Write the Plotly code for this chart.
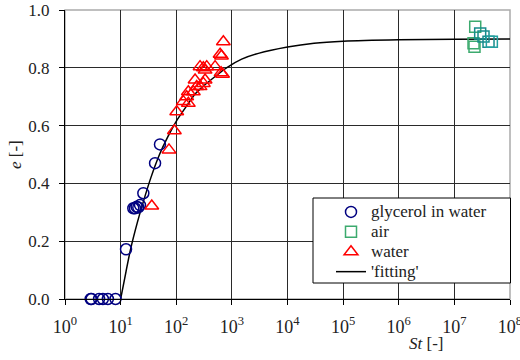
import plotly.graph_objects as go

# ---------------- data ----------------
glycerol_st = [2.9, 3.0, 4.1, 4.8, 5.9, 8.1, 12.5, 16.9, 18.1, 19.4, 20.8, 22.3, 25.6, 41.6, 51]
glycerol_e = [0.0, 0.0, 0.0, 0.0, 0.0, 0.0, 0.172, 0.314, 0.314, 0.319, 0.317, 0.325, 0.366, 0.47, 0.535]

air_st = [2.37e7, 2.21e7, 2.3e7, 2.91e7, 3.34e7, 4.11e7, 4.72e7]
air_e = [0.942, 0.885, 0.873, 0.919, 0.908, 0.89, 0.89]
air_colors = ["#3caa6e", "#3caa6e", "#3caa6e", "#178c8c", "#178c8c", "#178c8c", "#22a0a0"]

water_st = [36.3, 74, 92.5, 102, 134, 154, 165, 165, 203, 218, 233, 268, 268, 307, 307,
            330, 330, 353, 499, 614, 640, 650, 680, 703]
water_e = [0.322, 0.516, 0.582, 0.648, 0.683, 0.70, 0.717, 0.677, 0.717, 0.758, 0.735, 0.735,
           0.804, 0.80, 0.746, 0.792, 0.758, 0.804, 0.804, 0.847, 0.783, 0.841, 0.778, 0.890]

fit_st = [10, 11, 12.5, 15, 20, 25, 35, 50, 70, 100, 150, 220, 300, 500, 800, 1500,
          3000, 1e4, 3e4, 1e5, 1e6, 1e7, 1e8]
fit_e = [0.0, 0.04, 0.095, 0.17, 0.265, 0.33, 0.42, 0.50, 0.56, 0.615, 0.665, 0.71, 0.735,
         0.77, 0.80, 0.83, 0.85, 0.872, 0.885, 0.892, 0.897, 0.899, 0.90]

series_names = ["glycerol in water", "air", "water", "'fitting'"]

x_tickvals = [1, 10, 100, 1e3, 1e4, 1e5, 1e6, 1e7, 1e8]
x_ticktext = ["10<sup>%d</sup>" % i for i in range(9)]
y_tickvals = [0.0, 0.2, 0.4, 0.6, 0.8, 1.0]

FONT = "Liberation Serif, Times New Roman, serif"


def legend_label(s):
    # legend rows are spaced for a 13px font, the text itself is drawn at 17px
    return '<span style="font-size:17px">%s</span>' % s


fig = go.Figure()
fig.add_trace(go.Scatter(
    x=fit_st, y=fit_e, mode="lines", name=legend_label(series_names[3]), legendrank=4,
    line=dict(color="black", width=1.5, shape="spline", smoothing=0.6)))
fig.add_trace(go.Scatter(
    x=glycerol_st, y=glycerol_e, mode="markers", name=legend_label(series_names[0]), legendrank=1,
    marker=dict(symbol="circle-open", size=11, color="#000080", line=dict(width=1.5)),
    cliponaxis=False))
fig.add_trace(go.Scatter(
    x=air_st, y=air_e, mode="markers", name=legend_label(series_names[1]), legendrank=2,
    marker=dict(symbol="square-open", size=11, color=air_colors, line=dict(width=1.5)),
    cliponaxis=False))
fig.add_trace(go.Scatter(
    x=water_st, y=water_e, mode="markers", name=legend_label(series_names[2]), legendrank=3,
    marker=dict(symbol="triangle-up-open", size=12, color="#ff0000", line=dict(width=1.5)),
    cliponaxis=False))

W, H = 520, 360
ml, mr, mt, mb = 65, 10, 10, 61
pw, ph = W - ml - mr, H - mt - mb

def px_x(p):
    return (p - ml) / pw

def px_y(p):
    return (H - mb - p) / ph

fig.update_layout(
    width=W, height=H,
    margin=dict(l=ml, r=mr, t=mt, b=mb, autoexpand=False),
    paper_bgcolor="white", plot_bgcolor="white",
    font=dict(family=FONT, size=17, color="#222"),
    showlegend=True,
    legend=dict(
        traceorder="normal",
        x=px_x(331), y=px_y(197), xanchor="left", yanchor="top",
        bgcolor="rgba(0,0,0,0)", borderwidth=0,
        font=dict(family=FONT, size=13, color="#222"),
        itemwidth=30, tracegroupgap=0,
    ),
    xaxis=dict(
        type="log", range=[0, 8], tickvals=x_tickvals, ticktext=x_ticktext,
        showgrid=True, gridcolor="#2a2a2a", gridwidth=1,
        showline=True, linecolor="black", linewidth=1,
        ticks="outside", ticklen=5, tickcolor="black",
        ticklabelstandoff=6, zeroline=False, ticklabeloverflow="allow",
        tickfont=dict(family=FONT, size=18, color="#222"), automargin=False,
    ),
    yaxis=dict(
        range=[0, 1], tickvals=y_tickvals, tickformat=".1f",
        showgrid=True, gridcolor="#2a2a2a", gridwidth=1,
        showline=True, linecolor="black", linewidth=1,
        ticks="outside", ticklen=5, tickcolor="black",
        ticklabelstandoff=6, zeroline=False,
        tickfont=dict(family=FONT, size=17, color="#222"), automargin=False,
    ),
    shapes=[
        dict(type="rect", xref="paper", yref="paper", x0=0, x1=1, y0=0, y1=1,
             line=dict(color="#aaaaaa", width=1.5), layer="below"),
        dict(type="rect", xref="paper", yref="paper",
             x0=px_x(313), x1=px_x(510.5), y0=px_y(198), y1=px_y(283),
             line=dict(color="black", width=1), fillcolor="white", layer="above"),
    ],
    annotations=[
        dict(text="<i>St</i> [-]", xref="paper", yref="paper", x=px_x(426), y=px_y(343),
             xanchor="center", yanchor="middle", showarrow=False,
             font=dict(family=FONT, size=17, color="#222")),
        dict(text="<i>e</i> [-]", xref="paper", yref="paper", x=px_x(15), y=px_y(155),
             xanchor="center", yanchor="middle", showarrow=False, textangle=-90,
             font=dict(family=FONT, size=17, color="#222")),
    ],
)

fig.write_html("out.html")
